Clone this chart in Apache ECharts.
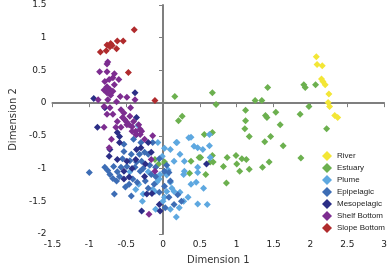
<!DOCTYPE html>
<html>
<head>
<meta charset="utf-8">
<script src="https://cdn.jsdelivr.net/npm/echarts@6/dist/echarts.min.js"></script>
<style>
  html, body { margin: 0; padding: 0; background: #fff; }
  #chart { width: 390px; height: 270px; }
</style>
</head>
<body>
<div id="chart"></div>
<script>
// 各群組資料（Dimension 1, Dimension 2）
const seriesNames = ['River', 'Estuary', 'Plume', 'Epipelagic', 'Mesopelagic', 'Shelf Bottom', 'Slope Bottom'];
const seriesColors = ['#f3e636', '#6cb04f', '#5ea8e0', '#3d6db5', '#2b2e86', '#7d2d90', '#b02b2d'];

const xTicks = [-1.5, -1, -0.5, 0, 0.5, 1, 1.5, 2, 2.5, 3];
const yTicks = [-2, -1.5, -1, -0.5, 0, 0.5, 1, 1.5];

const river = [
    [2.08, 0.71], [2.09, 0.59], [2.16, 0.57], [2.15, 0.37], [2.17, 0.33], [2.2, 0.28],
    [2.25, 0.14], [2.24, 0.01], [2.26, -0.05], [2.33, -0.19], [2.37, -0.22]
];

const estuary = [
    [0.16, 0.10], [0.21, -0.27], [0.26, -0.2], [0.67, 0.16], [0.72, -0.02], [1.42, 0.24],
    [1.25, 0.04], [1.34, 0.04], [1.12, -0.11], [1.12, -0.27], [1.11, -0.39], [1.39, -0.19],
    [1.41, -0.22], [1.53, -0.14], [1.59, -0.33], [1.91, 0.28], [1.93, 0.24], [2.07, 0.28],
    [1.98, -0.05], [1.86, -0.17], [2.22, -0.39], [1.17, -0.51], [1.38, -0.59], [1.46, -0.51],
    [1.63, -0.65], [1.87, -0.84], [0.51, -0.83], [0.67, -0.8], [0.68, -0.9], [0.58, -1.09],
    [0.87, -0.83], [0.99, -0.8], [1.07, -0.85], [1.13, -0.86], [0.82, -0.97], [1.0, -0.93],
    [1.04, -1.04], [1.17, -1.01], [1.35, -0.98], [1.44, -0.9], [0.86, -1.22], [0.56, -0.48],
    [0.67, -0.45], [-0.11, -0.86], [-0.06, -0.93], [0.02, -0.9], [0.38, -0.89], [0.36, -1.07],
    [0.49, -0.83], [0.64, -0.9]
];

const plume = [
    [0.18, -0.6], [0.1, -0.71], [0.02, -0.69], [0.23, -0.78], [0.15, -0.89], [0.29, -0.89],
    [0.38, -0.52], [0.47, -0.68], [0.47, -0.98], [0.28, -1.09], [0.38, -1.24], [0.34, -1.44],
    [0.47, -1.54], [0.18, -1.74], [0.28, -1.5], [-0.11, -1.35], [-0.27, -1.39], [-0.1, -1.62],
    [0.02, -1.44], [0.1, -1.62], [-0.04, -1.09], [-0.05, -1.16], [-0.08, -1.2], [0.15, -1.35],
    [0.23, -1.36], [-0.33, -1.24], [-0.37, -1.32], [-0.14, -1.32], [-0.07, -0.6], [0.19, -0.6],
    [0.35, -0.53], [0.42, -0.66], [-0.01, -0.81], [0.54, -0.71], [0.64, -0.83], [0.29, -1.04],
    [0.47, -1.06], [0.45, -1.21], [0.1, -1.21], [0.63, -0.48], [0.63, -0.65], [-0.34, -0.34],
    [0.05, -1.1], [0.07, -1.02], [0.12, -1.3], [0.0, -1.5], [0.22, -1.6], [-0.2, -1.05],
    [0.05, -1.35], [0.6, -1.55], [0.55, -1.3], [-0.45, -1.05], [-0.28, -1.5]
];

const epipelagic = [
    [-1.0, -1.06], [-0.53, -0.74], [-0.72, -1.09], [-0.59, -1.12], [-0.63, -1.19], [-0.51, -1.28],
    [-0.43, -1.42], [-0.41, -1.16], [-0.38, -0.98], [-0.31, -1.04], [-0.29, -0.89], [-0.25, -0.75],
    [-0.16, -1.09], [-0.1, -1.12], [-0.1, -0.98], [0.02, -1.04], [0.08, -1.06], [0.02, -1.27],
    [0.1, -1.19], [0.08, -1.44], [0.15, -1.55], [0.25, -1.5], [-0.43, -0.78], [-0.49, -0.97],
    [-0.79, -0.98], [-0.75, -1.03], [-0.67, -0.97], [-0.57, -0.98], [-0.46, -1.24], [-0.35, -1.21],
    [-0.24, -1.19], [-0.12, -1.24], [-0.05, -1.36], [-0.2, -0.78], [-0.53, -0.63], [-0.32, -0.78],
    [-0.66, -1.39], [-0.55, -0.85], [-0.45, -0.88], [-0.36, -0.9], [-0.27, -1.0], [-0.18, -0.95],
    [-0.05, -0.85], [0.05, -0.95], [-0.62, -1.05], [-0.68, -1.15], [-0.14, -0.6], [-0.3, -0.6],
    [-0.4, -0.55], [-0.2, -1.3], [0.2, -1.4], [0.03, -1.6]
];

const mesopelagic = [
    [-0.94, 0.07], [-0.38, 0.16], [-0.79, -0.07], [-0.36, -0.22], [-0.89, -0.37], [-0.62, -0.45],
    [-0.59, -0.51], [-0.59, -0.6], [-0.36, -0.48], [-0.72, -0.71], [-0.73, -0.81], [-0.62, -0.86],
    [-0.49, -0.89], [-0.36, -0.71], [-0.37, -0.86], [-0.3, -0.68], [-0.53, -1.04], [-0.46, -1.13],
    [-0.53, -1.16], [-0.24, -0.93], [-0.16, -0.75], [-0.22, -1.39], [-0.29, -1.65], [-0.04, -1.65],
    [-0.05, -1.55], [-0.2, -0.6], [0.59, -0.93], [-0.42, -1.0], [-0.25, -1.12], [-0.15, -1.38]
];

const shelfBottom = [
    [-0.75, 0.63], [-0.76, 0.60], [-0.86, 0.48], [-0.76, 0.48], [-0.66, 0.45], [-0.79, 0.33],
    [-0.73, 0.36], [-0.68, 0.39], [-0.6, 0.36], [-0.76, 0.25], [-0.72, 0.21], [-0.76, 0.16],
    [-0.68, 0.18], [-0.71, 0.12], [-0.49, 0.09], [-0.38, 0.05], [-0.88, 0.05], [-0.75, 0.05],
    [-0.8, -0.05], [-0.72, -0.07], [-0.76, -0.17], [-0.68, -0.17], [-0.57, -0.10], [-0.53, -0.15],
    [-0.44, -0.07], [-0.55, -0.22], [-0.5, -0.28], [-0.49, -0.33], [-0.57, -0.37], [-0.8, -0.37],
    [-0.64, -0.37], [-0.42, -0.36], [-0.37, -0.43], [-0.63, 0.02], [-0.46, -0.33], [-0.33, -0.33],
    [-0.31, -0.40], [-0.42, -0.43], [-0.37, -0.48], [-0.31, -0.48], [-0.7, -0.55], [-0.73, -0.68],
    [-0.19, -1.70], [-0.11, -1.04], [-0.16, -0.86], [-0.14, -0.5], [-0.29, -0.43], [-0.52, -0.25],
    [-0.45, -0.2], [-0.62, -0.28], [-0.4, -0.28], [-0.25, -0.55], [-0.58, 0.1], [-0.66, 0.28],
    [-0.8, 0.2]
];

const slopeBottom = [
    [-0.39, 1.12], [-0.85, 0.78], [-0.77, 0.80], [-0.76, 0.89], [-0.71, 0.91], [-0.69, 0.88],
    [-0.72, 0.86], [-0.63, 0.83], [-0.62, 0.95], [-0.54, 0.95], [-0.47, 0.47], [-0.11, 0.04]
];

const allData = [river, estuary, plume, epipelagic, mesopelagic, shelfBottom, slopeBottom];

const chart = echarts.init(document.getElementById('chart'));

const axisLabelStyle = { color: '#222', fontSize: 9, fontFamily: 'DejaVu Sans' };
const axisNameStyle = { color: '#333', fontSize: 10, fontFamily: 'DejaVu Sans' };

chart.setOption({
    animation: false,
    grid: { left: 40, right: 3, top: 5, bottom: 35 },
    legend: {
        orient: 'vertical',
        left: 322,
        top: 151,
        padding: 0,
        itemWidth: 10,
        itemHeight: 10,
        itemGap: 2,
        icon: 'diamond',
        textStyle: { color: '#222', fontSize: 8, fontFamily: 'Liberation Sans' },
        data: seriesNames
    },
    xAxis: {
        type: 'value',
        min: xTicks[0],
        max: xTicks[xTicks.length - 1],
        interval: 0.5,
        name: 'Dimension 1',
        nameLocation: 'middle',
        nameGap: 21,
        nameTextStyle: axisNameStyle,
        axisLine: { show: true, lineStyle: { color: '#7f7f7f', width: 2 } },
        axisTick: { show: true, length: 4, lineStyle: { color: '#7f7f7f' } },
        axisLabel: Object.assign({ margin: 6 }, axisLabelStyle),
        splitLine: { show: false }
    },
    yAxis: {
        type: 'value',
        min: yTicks[0],
        max: yTicks[yTicks.length - 1],
        interval: 0.5,
        name: 'Dimension 2',
        nameLocation: 'middle',
        nameGap: 28,
        nameTextStyle: axisNameStyle,
        axisLine: { show: true, lineStyle: { color: '#7f7f7f', width: 2 } },
        axisTick: { show: true, length: 4, lineStyle: { color: '#7f7f7f' } },
        axisLabel: Object.assign({ margin: 6 }, axisLabelStyle),
        splitLine: { show: false }
    },
    series: seriesNames.map((name, i) => ({
        name: name,
        type: 'scatter',
        symbol: 'diamond',
        symbolSize: 7,
        itemStyle: { color: seriesColors[i], opacity: 1 },
        data: allData[i]
    }))
});
</script>
</body>
</html>
